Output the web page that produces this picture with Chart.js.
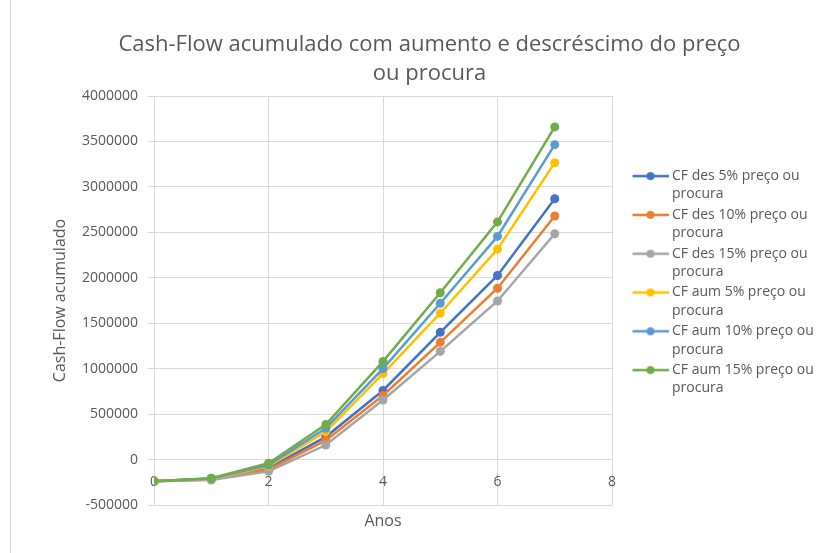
<!DOCTYPE html>
<html lang="pt">
<head>
<meta charset="utf-8">
<title>Cash-Flow acumulado</title>
<script src="https://cdn.jsdelivr.net/npm/chart.js@4.4.1/dist/chart.umd.min.js"></script>
<style>
  html, body { margin: 0; padding: 0; background: #fff; }
  #wrap { position: relative; width: 819px; height: 553px; overflow: hidden; }
  #frame { position: absolute; left: 10px; top: 0; width: 0; height: 553px; border-left: 1px solid #d9d9d9; }
  canvas { position: absolute; left: 0; top: 0; }
</style>
</head>
<body>
<div id="wrap">
  <canvas id="cfChart" width="819" height="553"></canvas>
  <div id="frame"></div>
</div>
<script>
// ── Data ──────────────────────────────────────────────────────────────────
const YEARS = [0, 1, 2, 3, 4, 5, 6, 7];

const SERIES_NAMES = [
  'CF des 5% preço ou procura',
  'CF des 10% preço ou procura',
  'CF des 15% preço ou procura',
  'CF aum 5% preço ou procura',
  'CF aum 10% preço ou procura',
  'CF aum 15% preço ou procura'
];

const CF_DES_5  = [-235000, -215000,  -95000, 250000,  760000, 1400000, 2025000, 2870000];
const CF_DES_10 = [-238000, -220000, -110000, 210000,  705000, 1290000, 1885000, 2680000];
const CF_DES_15 = [-240000, -225000, -130000, 160000,  655000, 1190000, 1745000, 2485000];
const CF_AUM_5  = [-235000, -210000,  -75000, 305000,  945000, 1610000, 2315000, 3265000];
const CF_AUM_10 = [-238000, -208000,  -60000, 345000, 1000000, 1720000, 2455000, 3465000];
const CF_AUM_15 = [-240000, -205000,  -40000, 385000, 1080000, 1835000, 2615000, 3660000];

const SERIES = [CF_DES_5, CF_DES_10, CF_DES_15, CF_AUM_5, CF_AUM_10, CF_AUM_15];
const COLORS = ['#4472C4', '#ED7D31', '#A5A5A5', '#FFC000', '#5B9BD5', '#70AD47'];

const TITLE_LINES = ['Cash-Flow acumulado com aumento e descréscimo do preço', 'ou procura'];
const X_TITLE = 'Anos';
const Y_TITLE = 'Cash-Flow acumulado';

const TEXT = '#595959';
const GRID = '#d9d9d9';
const FONT = "'Open Sans', sans-serif";

// ── Legend markers (line with dot, Excel style) ───────────────────────────
function makeMarker(color) {
  const c = document.createElement('canvas');
  c.width = 58;
  c.height = 10;
  const g = c.getContext('2d');
  g.strokeStyle = color;
  g.lineWidth = 2.5;
  g.beginPath();
  g.moveTo(22, 5);
  g.lineTo(58, 5);
  g.stroke();
  g.fillStyle = color;
  g.beginPath();
  g.arc(40, 5, 4, 0, Math.PI * 2);
  g.fill();
  return c;
}
const MARKERS = COLORS.map(makeMarker);

function splitName(name) {
  const i = name.lastIndexOf(' ');
  return [name.slice(0, i), name.slice(i + 1)];
}

// ── Chart ─────────────────────────────────────────────────────────────────
const datasets = SERIES.map((vals, i) => ({
  label: SERIES_NAMES[i],
  data: YEARS.map((x, j) => ({ x: x, y: vals[j] })),
  borderColor: COLORS[i],
  backgroundColor: COLORS[i],
  pointBackgroundColor: COLORS[i],
  pointBorderWidth: 0,
  pointRadius: 4.5,
  borderWidth: 2.5,
  tension: 0,
  order: SERIES.length - 1 - i   // last series drawn on top, as in Excel
}));

new Chart(document.getElementById('cfChart'), {
  type: 'line',
  data: { datasets },
  options: {
    responsive: false,
    animation: false,
    devicePixelRatio: 1,
    layout: { padding: { left: 40, top: 16, right: 0, bottom: 0 } },
    plugins: {
      tooltip: { enabled: false },
      title: {
        display: true,
        text: TITLE_LINES,
        color: TEXT,
        font: { family: FONT, size: 22, weight: 'normal', lineHeight: 29 / 22 },
        padding: { top: 14, bottom: 8 }
      },
      subtitle: {
        display: true,
        text: X_TITLE,
        position: 'bottom',
        fullSize: false,
        color: TEXT,
        font: { family: FONT, size: 16, weight: 'normal', lineHeight: 1.2 },
        padding: { top: 6.4, bottom: 22.4 }
      },
      legend: {
        position: 'right',
        align: 'center',
        maxWidth: 207,
        labels: {
          usePointStyle: true,
          pointStyleWidth: 51,
          padding: 2,
          color: TEXT,
          font: { family: FONT, size: 14, lineHeight: 18.4 / 14 },
          sort: (a, b) => a.datasetIndex - b.datasetIndex,
          generateLabels: chart => {
            const items = Chart.defaults.plugins.legend.labels.generateLabels(chart);
            return items.map(item => {
              item.pointStyle = MARKERS[item.datasetIndex];
              item.text = splitName(SERIES_NAMES[item.datasetIndex]);
              return item;
            });
          }
        }
      }
    },
    scales: {
      x: {
        type: 'linear',
        position: { y: 0 },
        min: 0,
        max: 8,
        ticks: { stepSize: 2, color: TEXT, font: { family: FONT, size: 14 }, padding: 14 },
        grid: { color: GRID, drawTicks: false },
        border: { display: false }
      },
      y: {
        min: -500000,
        max: 4000000,
        ticks: {
          stepSize: 500000,
          color: TEXT,
          font: { family: FONT, size: 14 },
          padding: 10,
          callback: v => String(v)
        },
        grid: { color: GRID, tickLength: 6 },
        border: { color: GRID },
        title: {
          display: true,
          text: Y_TITLE,
          color: TEXT,
          font: { family: FONT, size: 16, lineHeight: 1.2 },
          padding: { top: 10.4, bottom: 2.4 }
        }
      }
    }
  }
});
</script>
</body>
</html>
